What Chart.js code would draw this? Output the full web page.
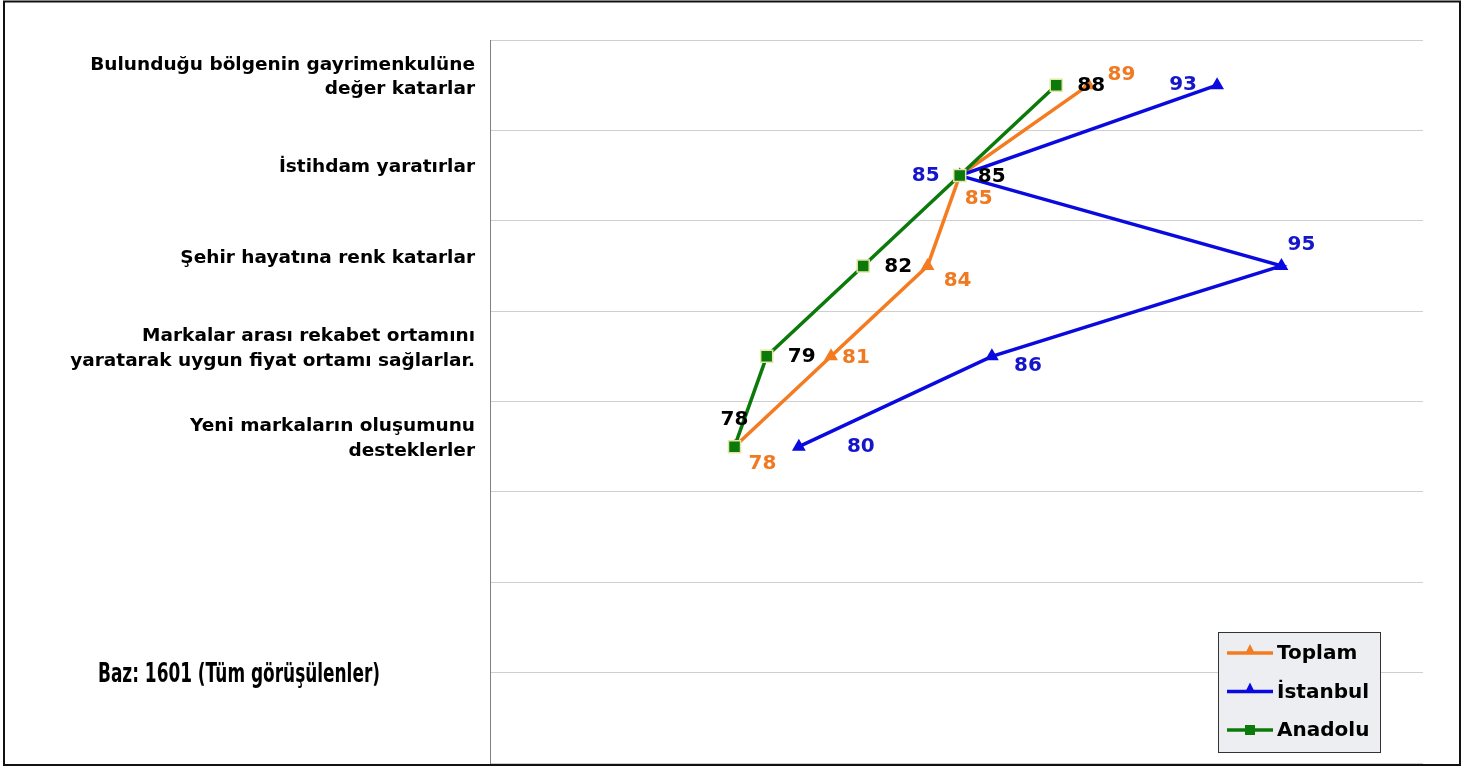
<!DOCTYPE html>
<html lang="tr">
<head>
<meta charset="utf-8">
<title>Markalar hakkında görüşler</title>
<script src="https://cdn.jsdelivr.net/npm/chart.js@4"></script>
<style>
  html, body { margin: 0; padding: 0; background: #fff; }
  #wrap { width: 1479px; height: 767px; position: relative; }
</style>
</head>
<body>
<div id="wrap"><canvas id="c" width="1479" height="767"></canvas></div>
<script>
// Statements (y categories); the last three rows are left empty
const categories = [
  ["Bulunduğu bölgenin gayrimenkulüne", "değer katarlar"],
  "İstihdam yaratırlar",
  "Şehir hayatına renk katarlar",
  ["Markalar arası rekabet ortamını", "yaratarak uygun fiyat ortamı sağlarlar."],
  ["Yeni markaların oluşumunu", "desteklerler"],
  "", "", ""
];
const seriesNames = ["Toplam", "İstanbul", "Anadolu"];
const toplam   = [89, 85, 84, 81, 78];
const istanbul = [93, 85, 95, 86, 80];
const anadolu  = [88, 85, 82, 79, 78];
const baseNote = "Baz: 1601 (Tüm görüşülenler)";

// Series styling
const lineColors  = ["#f47b20", "#0a0ae0", "#0b7a0b"];
const labelColors = ["#ef7a22", "#1515cc", "#000000"];
const markerStyles = ["triangle", "triangle", "rect"];

// Value-label placement relative to each marker [dx, dy]
const labelShift = [
  [[33, -10], [19, 23], [30, 15], [25, 1], [28, 17]],
  [[-34, 0], [-34, 0], [20, -21], [36, 9], [62, 0]],
  [[35, 1], [32, 1], [35, 1], [35, 0], [0, -27]]
];

const seriesValues = [toplam, istanbul, anadolu];

const framePlugin = {
  id: 'frame',
  beforeDraw(chart) {
    const ctx = chart.ctx;
    ctx.save();
    ctx.fillStyle = '#ffffff';
    ctx.fillRect(0, 0, chart.width, chart.height);
    ctx.restore();
  },
  afterDraw(chart) {
    const ctx = chart.ctx;
    ctx.save();
    ctx.strokeStyle = '#111111';
    ctx.lineWidth = 2;
    ctx.strokeRect(4, 1.5, 1456, 763.5);
    // base note, set in a narrow face and fitted to its column width
    ctx.fillStyle = '#000';
    ctx.font = 'bold 27px "Liberation Sans Narrow", "DejaVu Sans Condensed", sans-serif';
    ctx.textBaseline = 'alphabetic';
    ctx.textAlign = 'left';
    const w = ctx.measureText(baseNote).width;
    const sx = 282 / w;
    ctx.translate(98, 682);
    ctx.scale(sx, 1);
    ctx.fillText(baseNote, 0, 0);
    ctx.restore();
  }
};

const valueLabels = {
  id: 'valueLabels',
  afterDatasetsDraw(chart) {
    const ctx = chart.ctx;
    ctx.save();
    ctx.font = 'bold 20px "DejaVu Sans", Verdana, sans-serif';
    ctx.textAlign = 'center';
    ctx.textBaseline = 'middle';
    chart.data.datasets.forEach((ds, d) => {
      const meta = chart.getDatasetMeta(d);
      meta.data.forEach((el, i) => {
        const s = labelShift[d][i];
        ctx.fillStyle = labelColors[d];
        ctx.fillText(String(ds.data[i]), el.x + s[0], el.y + s[1]);
      });
    });
    ctx.restore();
  }
};

const boxLegend = {
  id: 'boxLegend',
  afterDraw(chart) {
    const ctx = chart.ctx;
    const bx = 1218, by = 632, bw = 162, bh = 120;
    ctx.save();
    ctx.fillStyle = '#eceef1';
    ctx.fillRect(bx, by, bw, bh);
    ctx.strokeStyle = '#333';
    ctx.lineWidth = 1;
    ctx.strokeRect(bx + 0.5, by + 0.5, bw, bh);
    chart.data.datasets.forEach((ds, d) => {
      const y = by + 21 + d * 38.5;
      ctx.strokeStyle = ds.borderColor;
      ctx.lineWidth = 3.5;
      ctx.beginPath();
      ctx.moveTo(bx + 9, y);
      ctx.lineTo(bx + 55, y);
      ctx.stroke();
      ctx.fillStyle = ds.pointBackgroundColor;
      ctx.beginPath();
      if (ds.pointStyle === 'rect') {
        ctx.rect(bx + 27, y - 5, 10, 10);
      } else {
        ctx.moveTo(bx + 32, y - 9);
        ctx.lineTo(bx + 37, y + 1);
        ctx.lineTo(bx + 27, y + 1);
        ctx.closePath();
      }
      ctx.fill();
      ctx.fillStyle = '#000';
      ctx.font = 'bold 20px "DejaVu Sans", Verdana, sans-serif';
      ctx.textAlign = 'left';
      ctx.textBaseline = 'middle';
      ctx.fillText(ds.label, bx + 59, y + 1);
    });
    ctx.restore();
  }
};

const datasets = seriesNames.map((name, d) => ({
  label: name,
  data: seriesValues[d],
  borderColor: lineColors[d],
  backgroundColor: lineColors[d],
  borderWidth: 3.5,
  pointStyle: markerStyles[d],
  pointRadius: markerStyles[d] === 'rect' ? 8.5 : 8,
  pointBackgroundColor: lineColors[d],
  pointBorderColor: markerStyles[d] === 'rect' ? '#e4e6a4' : lineColors[d],
  pointBorderWidth: markerStyles[d] === 'rect' ? 1.5 : 0,
  tension: 0,
  order: [2, 1, 0][d]
}));

new Chart(document.getElementById('c'), {
  type: 'line',
  data: { labels: categories, datasets },
  options: {
    indexAxis: 'y',
    responsive: false,
    animation: false,
    devicePixelRatio: 1,
    layout: { autoPadding: false, padding: { left: 0, top: 40, right: 56, bottom: 4 } },
    plugins: { legend: { display: false }, tooltip: { enabled: false } },
    scales: {
      x: {
        type: 'linear',
        min: 70.4,
        max: 99.4,
        display: false
      },
      y: {
        type: 'category',
        offset: true,
        afterFit(scale) {
          scale.width = 490;
          scale.paddingTop = 0;
          scale.paddingBottom = 0;
        },
        grid: { offset: true, color: '#cfcfcf', lineWidth: 1, drawTicks: false },
        border: { display: true, color: '#808080', width: 1 },
        ticks: {
          padding: 15,
          labelOffset: -8,
          color: '#000',
          autoSkip: false,
          font: { family: '"DejaVu Sans", Verdana, sans-serif', weight: 'bold', size: 18.5, lineHeight: 1.35 }
        }
      }
    }
  },
  plugins: [framePlugin, valueLabels, boxLegend]
});
</script>
</body>
</html>
